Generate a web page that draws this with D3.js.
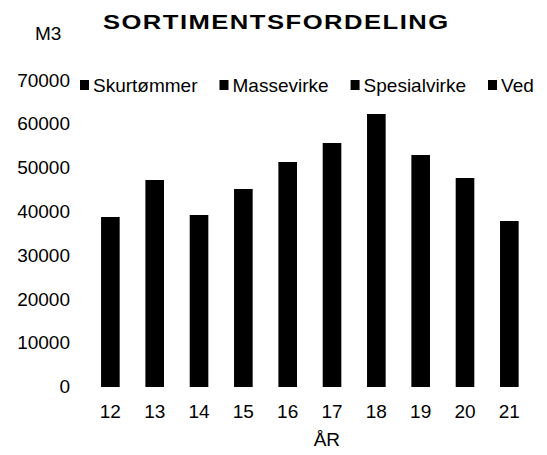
<!DOCTYPE html>
<html>
<head>
<meta charset="utf-8">
<script src="https://cdn.jsdelivr.net/npm/d3@7"></script>
<style>
    body { margin: 0; background: #fff; }
    text { font-family: "Liberation Sans", Arial, sans-serif; fill: #000; }
</style>
</head>
<body>
<div id="chart-area"></div>
<script>
// Data
const years = ["12", "13", "14", "15", "16", "17", "18", "19", "20", "21"];
const seriesNames = ["Skurtømmer", "Massevirke", "Spesialvirke", "Ved"];
const skurtommer   = [15600, 21000, 22300, 20500, 23000, 19800, 26000, 24300, 24000, 21700];
const massevirke   = [20500, 24000, 15200, 22600, 24900, 33100, 33000, 26500, 21700, 14700];
const spesialvirke = [0, 0, 0, 0, 0, 0, 0, 0, 0, 0];
const ved          = [2550, 2100, 1700, 1900, 3400, 2800, 3200, 2000, 1900, 1300];
const yTicks = [0, 10000, 20000, 30000, 40000, 50000, 60000, 70000];

const width = 547, height = 455;

const svg = d3.select("#chart-area").append("svg")
    .attr("width", width)
    .attr("height", height);

// Table for the stack layout
const table = years.map((yr, i) => ({
    year: yr,
    "Skurtømmer": skurtommer[i],
    "Massevirke": massevirke[i],
    "Spesialvirke": spesialvirke[i],
    "Ved": ved[i]
}));

const stacked = d3.stack().keys(seriesNames)(table);

// Scales
const x = d3.scaleBand()
    .domain(years)
    .range([88.2, 531.5])
    .paddingInner(0.58)
    .paddingOuter(0.29);

const y = d3.scaleLinear()
    .domain([0, 70000])
    .range([386.5, 80]);

// Bars (segment edges snapped to whole pixels so the stack reads as one solid bar)
svg.append("g").selectAll("g")
    .data(stacked)
    .enter().append("g")
    .attr("fill", "#000")
    .selectAll("rect")
    .data(d => d)
    .enter().append("rect")
    .attr("x", d => x(d.data.year))
    .attr("y", d => Math.round(y(d[1])))
    .attr("width", x.bandwidth())
    .attr("height", d => Math.round(y(d[0])) - Math.round(y(d[1])));

// Axes (no lines, labels only)
const yAxis = svg.append("g")
    .attr("transform", "translate(70,0)")
    .call(d3.axisLeft(y).tickValues(yTicks).tickSize(0).tickPadding(0).tickFormat(d3.format("d")));
yAxis.select(".domain").remove();
yAxis.selectAll("text")
    .style("font-size", "19px")
    .style("font-family", "'Liberation Sans', Arial, sans-serif");

const xAxis = svg.append("g")
    .attr("transform", "translate(0,386.5)")
    .call(d3.axisBottom(x).tickSize(0).tickPadding(18));
xAxis.select(".domain").remove();
xAxis.selectAll("text")
    .style("font-size", "19px")
    .style("font-family", "'Liberation Sans', Arial, sans-serif");

// Title (stretched a little sideways like the original)
svg.append("text")
    .attr("transform", "translate(275.5,28.5) scale(1.22,1)")
    .attr("text-anchor", "middle")
    .attr("textLength", 283)
    .attr("lengthAdjust", "spacing")
    .style("font-size", "21px")
    .style("font-weight", "bold")
    .text("SORTIMENTSFORDELING");

svg.append("text")
    .attr("x", 35)
    .attr("y", 40)
    .style("font-size", "19px")
    .text("M3");

svg.append("text")
    .attr("x", x("16") + x.step() / 2 + x.bandwidth() / 2 + 17)
    .attr("y", 446)
    .attr("text-anchor", "middle")
    .style("font-size", "19px")
    .text("ÅR");

// Legend
const legend = svg.append("g").attr("transform", "translate(80,85)");
let lx = 0;
seriesNames.forEach(name => {
    const item = legend.append("g").attr("transform", "translate(" + lx + ",0)");
    item.append("rect")
        .attr("x", 0)
        .attr("y", -5)
        .attr("width", 9)
        .attr("height", 10)
        .attr("fill", "#000");
    const label = item.append("text")
        .attr("x", 13)
        .attr("y", 7)
        .style("font-size", "19px")
        .text(name);
    lx += 13 + label.node().getComputedTextLength() + 22;
});
</script>
</body>
</html>
